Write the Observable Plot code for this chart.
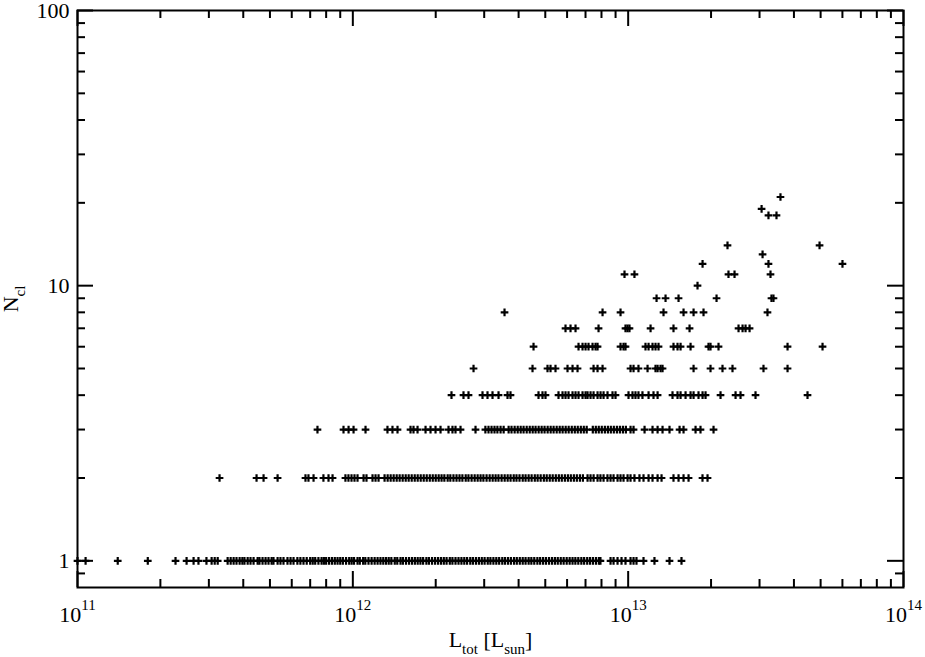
<!DOCTYPE html>
<html><head><meta charset="utf-8">
<script src="https://cdn.jsdelivr.net/npm/d3@7"></script>
<script src="https://cdn.jsdelivr.net/npm/@observablehq/plot@0.6"></script>
<style>body{margin:0;background:#fff}</style>
</head><body><div id="chart"></div>
<script>
// Total luminosity L_tot (in units of 1e12 L_sun) of objects, grouped by N_cl
const nCl1 = [0.100, 0.107, 0.140, 0.180, 0.227, 0.249, 0.264, 0.275, 0.294, 0.307, 0.315, 0.323,
 0.351, 0.360, 0.369, 0.378, 0.388, 0.397, 0.404, 0.415, 0.425, 0.436, 0.451, 0.458, 0.470, 0.482, 0.494, 0.507, 0.515, 0.533, 0.546, 0.560, 0.579, 0.594, 0.609, 0.629, 0.645, 0.662,
 0.68, 0.70, 0.715, 0.73, 0.75, 0.77, 0.785, 0.80, 0.82, 0.84, 0.86, 0.88, 0.90, 0.92, 0.945, 0.97, 0.99, 1.01, 1.04, 1.06, 1.09, 1.11, 1.14, 1.17, 1.20, 1.23, 1.26, 1.29, 1.32, 1.35, 1.38, 1.42, 1.45, 1.49, 1.52, 1.56, 1.60, 1.64, 1.68, 1.72, 1.76, 1.80, 1.85, 1.89, 1.94, 1.99, 2.04, 2.09, 2.14, 2.19, 2.25, 2.30, 2.36, 2.42, 2.48, 2.54, 2.60, 2.67, 2.73, 2.80, 2.87, 2.94, 3.01, 3.09, 3.16, 3.24, 3.32, 3.40, 3.49, 3.57, 3.66, 3.75, 3.85, 3.94, 4.04, 4.14, 4.24, 4.35, 4.45, 4.56, 4.68, 4.79, 4.91, 5.03, 5.16, 5.29, 5.42, 5.55, 5.69, 5.83, 5.98, 6.13, 6.28, 6.43, 6.59, 6.76, 6.92, 7.10, 7.27, 7.45, 7.64, 7.83,
 7.93, 8.63, 8.85, 9.15, 9.46, 9.78, 10.2, 10.46, 10.72, 11.37, 12.46, 14.13, 15.62];
const nCl2 = [0.328, 0.447, 0.474, 0.533, 0.673, 0.690, 0.720, 0.782, 0.816, 0.844,
 0.940, 0.964, 0.989, 1.014, 1.040, 1.094, 1.121, 1.179, 1.209, 1.240, 1.304, 1.338, 1.372, 1.407, 1.443, 1.479, 1.517, 1.556, 1.595, 1.636, 1.678, 1.720, 1.764, 1.809, 1.855, 1.903, 1.951,
 2.00, 2.05, 2.10, 2.15, 2.21, 2.26, 2.32, 2.38, 2.44, 2.50, 2.57, 2.63, 2.70, 2.77, 2.84, 2.91, 2.98, 3.06, 3.14, 3.22, 3.30, 3.38, 3.47, 3.56, 3.65, 3.74, 3.84, 3.93, 4.03, 4.14, 4.24, 4.35, 4.46, 4.58, 4.69, 4.81, 4.94, 5.06, 5.19, 5.32, 5.46, 5.60, 5.74, 5.89, 6.04, 6.19, 6.35, 6.51, 6.68, 6.85,
 7.12, 7.30, 7.49, 7.74, 7.93, 8.14, 8.41, 8.63, 8.85, 9.15, 9.38, 9.62, 9.95, 10.2, 10.54, 10.99, 11.37,
 11.86, 12.26, 12.79, 13.22, 14.61, 15.24, 15.89, 16.57, 18.62, 19.42];
const nCl3 = [0.744, 0.925, 0.965, 1.006, 1.112, 1.336, 1.393, 1.453, 1.620, 1.661, 1.718, 1.837, 1.915, 1.997, 2.082, 2.226, 2.301, 2.360, 2.461, 2.790,
 3.03, 3.11, 3.19, 3.27, 3.35, 3.44, 3.53, 3.68, 3.77, 3.87, 3.97, 4.07, 4.17, 4.28, 4.39, 4.50, 4.61, 4.73, 4.85, 4.97, 5.10, 5.23, 5.36, 5.50, 5.64, 5.78, 5.93, 6.08, 6.24, 6.40, 6.56, 6.73, 6.90, 7.07, 7.44, 7.63, 7.82, 8.02, 8.23, 8.44, 8.65, 8.87, 9.10, 9.33, 9.57, 9.81, 10.2, 10.46,
 11.47, 12.26, 12.79, 13.33, 14.13, 15.37, 15.89, 17.57, 18.31, 20.42];
const nCl4 = [2.282, 2.523, 2.631, 2.958, 3.084, 3.216, 3.382, 3.646, 3.738, 4.725, 4.885, 5.009, 5.585, 5.776, 5.922, 6.073, 6.280, 6.439, 6.603, 6.828, 7.002, 7.120, 7.301, 7.487, 7.741, 7.938, 8.140, 8.414, 8.773, 8.996, 10.03, 10.37, 10.63, 10.90, 11.27, 11.86, 12.36, 12.79, 14.49, 15.11, 15.50, 16.16, 16.85, 17.28, 18.01, 18.63, 19.10, 21.65, 24.55, 25.59, 29.01, 44.81];
const nCl5 = [2.744, 4.494, 5.094, 5.224, 5.446, 6.022, 6.280, 6.548, 7.487, 7.741, 8.072, 10.20, 10.46, 10.90, 11.76, 12.57, 12.79, 13.11, 13.33, 17.28, 19.91, 22.01, 23.93, 31.01, 37.92];
const nCl6 = [4.532, 6.603, 6.828, 7.002, 7.178, 7.424, 7.612, 7.741, 9.381, 9.619, 9.779, 11.56, 11.86, 12.26, 12.57, 12.89, 14.61, 15.11, 15.50, 16.85, 19.58, 19.91, 21.29, 37.92, 50.81];
const nCl7 = [5.922, 6.175, 6.439, 7.806, 9.779, 9.945, 10.11, 12.06, 14.61, 16.71, 25.17, 26.03, 26.69, 27.60];
const nCl8 = [3.556, 8.072, 9.381, 13.44, 15.89, 17.28, 18.78, 32.06];
const nCl9 = [12.68, 13.67, 15.24, 20.94, 33.15, 33.71];
const nCl10 = [17.86];
const nCl11 = [9.699, 10.54, 23.14, 24.34, 32.88];
const nCl12 = [18.63, 32.33, 60.03];
const nCl13 = [30.77];
const nCl14 = [22.95, 49.56];
const nCl18 = [32.33, 34.57];
const nCl19 = [30.52];
const nCl21 = [35.74];

const groups = [[1, nCl1], [2, nCl2], [3, nCl3], [4, nCl4], [5, nCl5], [6, nCl6], [7, nCl7], [8, nCl8], [9, nCl9],
  [10, nCl10], [11, nCl11], [12, nCl12], [13, nCl13], [14, nCl14], [18, nCl18], [19, nCl19], [21, nCl21]];
const points = groups.flatMap(([n, ls]) => ls.map(l => ({L: l * 1e12, N: n})));

// tick values
const xMajor = [1e11, 1e12, 1e13, 1e14];
const xMinor = [1e11, 1e12, 1e13].flatMap(d => [2, 3, 4, 5, 6, 7, 8, 9].map(k => k * d));
const yMajor = [1, 10, 100];
const yMinor = [0.9, 2, 3, 4, 5, 6, 7, 8, 9, 20, 30, 40, 50, 60, 70, 80, 90];

const W = 925, H = 657, mL = 77, mR = 22, mT = 10, mB = 70;
const plotW = W - mL - mR, plotH = H - mT - mB;
const majorLen = 16, minorLen = 8;
const serif = "Liberation Serif, Times New Roman, Times, serif";
const FS = 22;
const tk = {stroke: "black", strokeWidth: 2};
const txt = {fontFamily: serif, fontSize: FS, fill: "black"};

const svg = Plot.plot({
  width: W, height: H,
  marginLeft: mL, marginRight: mR, marginTop: mT, marginBottom: mB,
  style: {fontFamily: serif, fontSize: FS + "px", color: "black", background: "white", overflow: "visible"},
  x: {type: "log", domain: [1e11, 1e14]},
  y: {type: "log", domain: [0.8, 100]},
  marks: [
    Plot.tickX(xMinor, {x: d => d, insetTop: plotH - minorLen, ...tk}),
    Plot.tickX(xMinor, {x: d => d, insetBottom: plotH - minorLen, ...tk}),
    Plot.tickX(xMajor, {x: d => d, insetTop: plotH - majorLen, ...tk}),
    Plot.tickX(xMajor, {x: d => d, insetBottom: plotH - majorLen, ...tk}),
    Plot.tickY(yMinor, {y: d => d, insetRight: plotW - minorLen, ...tk}),
    Plot.tickY(yMinor, {y: d => d, insetLeft: plotW - minorLen, ...tk}),
    Plot.tickY(yMajor, {y: d => d, insetRight: plotW - majorLen, ...tk}),
    Plot.tickY(yMajor, {y: d => d, insetLeft: plotW - majorLen, ...tk}),
    Plot.dot(points, {x: "L", y: "N", symbol: "plus", r: 2.6, stroke: "black", strokeWidth: 2.2}),
    Plot.frame({stroke: "black", strokeWidth: 2}),
    Plot.axisX(xMajor, {tickSize: 0, tickPadding: 19, label: null, ...txt, className: "xticklab",
      tickFormat: d => `10^${Math.round(Math.log10(d))}`}),
    Plot.axisY(yMajor, {tickSize: 0, tickPadding: 8, label: null, ...txt, className: "yticklab",
      tickFormat: d => String(d)}),
    Plot.text(["L|tot| [L|sun|]"], {frameAnchor: "bottom", dy: 52.5, textAnchor: "middle", lineAnchor: "middle", ...txt, className: "xtitle"}),
    Plot.text(["N|cl"], {frameAnchor: "left", dx: -67, rotate: -90, textAnchor: "middle", lineAnchor: "middle", ...txt, className: "ytitle"})
  ]
});
document.getElementById("chart").appendChild(svg);

const root = d3.select(svg);
root.selectAll("text").attr("font-family", serif).attr("font-size", FS).style("font-family", serif).style("font-size", FS + "px");
root.selectAll(".xticklab text").each(function () {
  const t = d3.select(this);
  const s = t.text();
  if (!s.includes("^")) return;
  const [base, exp] = s.split("^");
  t.text(null);
  t.append("tspan").text(base);
  t.append("tspan").attr("dy", -12).style("font-size", "15px").text(exp);
});
// alternate normal / subscript parts separated by "|"
function subscriptify(sel) {
  sel.each(function () {
    const t = d3.select(this);
    const parts = t.text().split("|");
    t.text(null);
    let down = false;
    parts.forEach((p, i) => {
      if (!p) return;
      const sub = i % 2 === 1;
      const ts = t.append("tspan").text(p);
      if (sub) ts.style("font-size", "15px");
      if (sub && !down) { ts.attr("dy", 7); down = true; }
      else if (!sub && down) { ts.attr("dy", -7); down = false; }
    });
  });
}
subscriptify(root.selectAll(".xtitle text"));
subscriptify(root.selectAll(".ytitle text"));
</script>
</body></html>
